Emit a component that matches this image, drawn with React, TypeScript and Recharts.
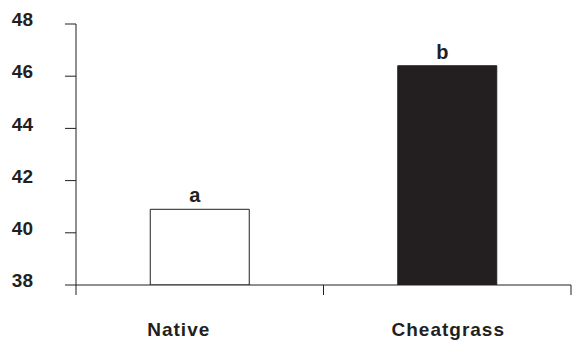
import { BarChart, Bar, XAxis, YAxis, LabelList, Cell } from "recharts";

const categories = ["Native", "Cheatgrass"];
const means = [40.9, 46.4];
const letters = ["a", "b"];
const yTicks = [38, 40, 42, 44, 46, 48];
const edgeTicks = [0, 1, 2];

const INK = "#231f20";
const FONT = "'Liberation Sans', Arial, sans-serif";

const data = categories.map((name, i) => ({ name, value: means[i], letter: letters[i], slot: i + 0.5 }));
const barFills = ["#ffffff", INK];

// the original centres the "Native" label a bit left of its bar
const labelShift = [-21, 1];

const CategoryTick = (props: any) => {
  const { x, y, payload, index } = props;
  return (
    <text
      x={x + (labelShift[index] || 0)}
      y={y + 41}
      textAnchor="middle"
      fontFamily={FONT}
      fontSize={19}
      fontWeight="bold"
      letterSpacing={1}
      fill={INK}
    >
      {payload.value}
    </text>
  );
};

const LetterLabel = (props: any) => {
  const { x, y, width, value } = props;
  return (
    <text
      x={x + width / 2 - 5}
      y={y - 7}
      textAnchor="middle"
      fontFamily={FONT}
      fontSize={20}
      fontWeight="bold"
      fill={INK}
    >
      {value}
    </text>
  );
};

export default function App() {
  return (
    <div style={{ position: "absolute", left: 0, top: 0, background: "#fff" }}>
      <BarChart
        width={572}
        height={340}
        data={data}
        margin={{ top: 24, right: 1, left: 0, bottom: 0 }}
        barCategoryGap="30%"
      >
        {/* id 0 sorts first, so this axis sits right under the plot */}
        <XAxis
          xAxisId={0}
          dataKey="slot"
          type="number"
          domain={[0, 2]}
          ticks={edgeTicks}
          axisLine={{ stroke: INK }}
          tickLine={{ stroke: INK }}
          tickSize={10}
          tick={() => <g />}
          stroke={INK}
          height={10}
        />
        <XAxis
          xAxisId="cat"
          dataKey="name"
          axisLine={false}
          tickLine={false}
          tickSize={0}
          tickMargin={0}
          tick={<CategoryTick />}
          height={45}
          interval={0}
        />
        <YAxis
          domain={[38, 48]}
          ticks={yTicks}
          width={76}
          tickSize={11}
          tickMargin={32}
          stroke={INK}
          axisLine={{ stroke: INK }}
          tickLine={{ stroke: INK }}
          tick={{ fontFamily: FONT, fontSize: 19, fontWeight: "bold", fill: INK, dy: -4.5 }}
          allowDataOverflow
        />
        <Bar xAxisId="cat" dataKey="value" stroke={INK} strokeWidth={1} isAnimationActive={false}>
          {data.map((d, i) => (
            <Cell key={d.name} fill={barFills[i]} />
          ))}
          <LabelList dataKey="letter" content={<LetterLabel />} />
        </Bar>
      </BarChart>
    </div>
  );
}
